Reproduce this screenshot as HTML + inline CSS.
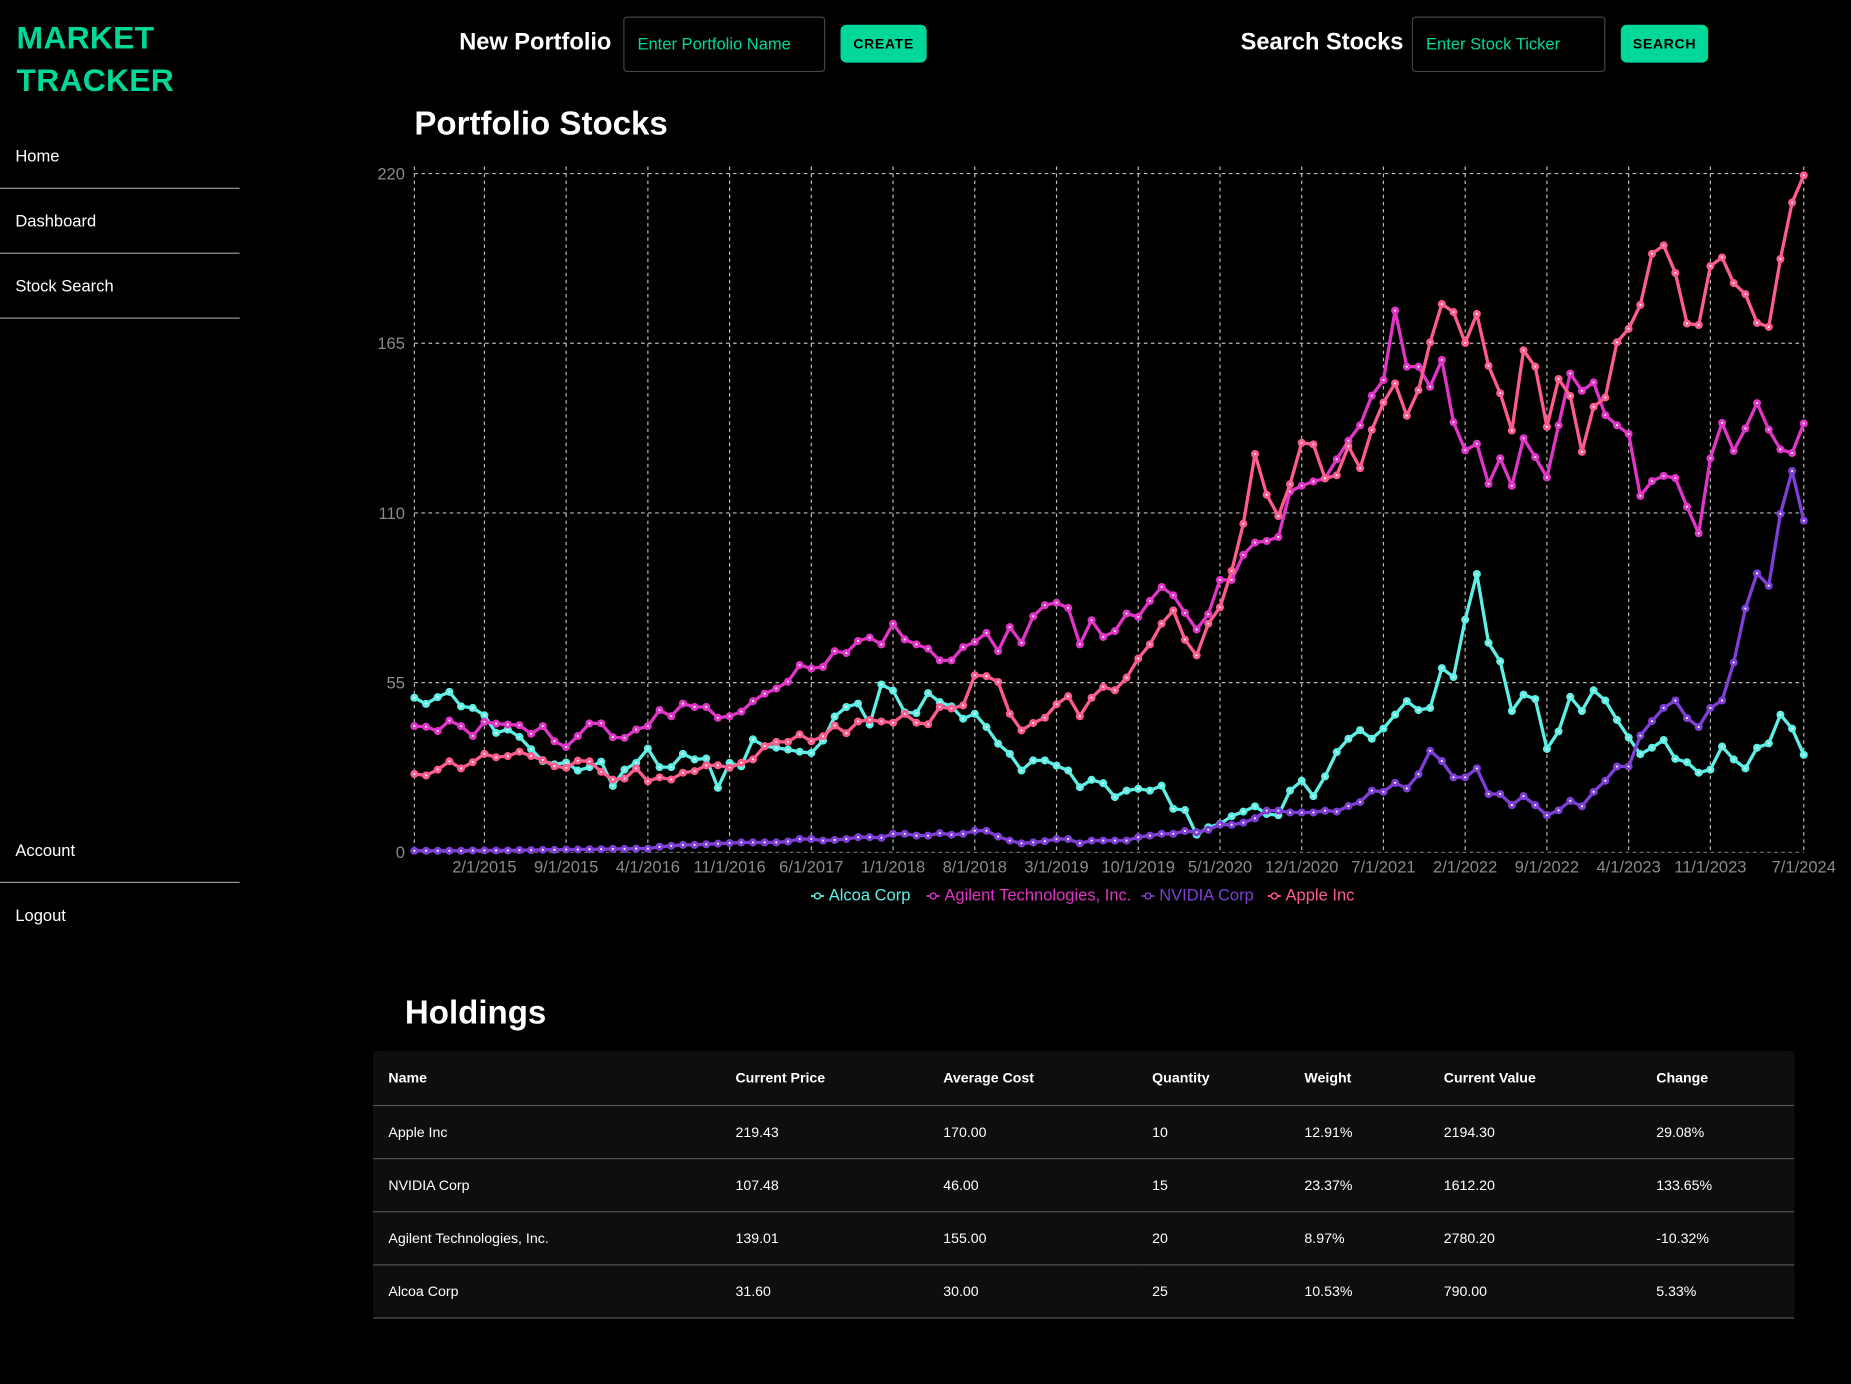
<!DOCTYPE html>
<html><head><meta charset="utf-8"><style>
html,body{margin:0;padding:0;background:#000;overflow:hidden;width:1851px;height:1383px}
#wrap{position:absolute;left:0;top:0;width:1568px;height:1172px;transform:scale(1.18048);transform-origin:0 0;font-family:"Liberation Sans",sans-serif;color:#fff}
.abs{position:absolute}
.logo{left:14px;top:14px;font-size:27px;font-weight:bold;color:#00d89a;line-height:36px;letter-spacing:0.2px}
.nav{left:13px;font-size:14px;color:#fff}
.div{left:0;width:203px;height:1px;background:#9a9a9a}
.h2{font-size:20px;font-weight:bold}
.inp{border:1px solid #444;border-radius:3px;background:#000;color:#00d89a;font-size:14px;box-sizing:border-box;padding-left:11px;line-height:44px}
.btn{background:#00d89a;color:#000;font-size:12px;font-weight:bold;border-radius:5px;text-align:center;line-height:32px;letter-spacing:0.5px}
.title{font-size:28px;font-weight:bold}
table{border-collapse:collapse;font-size:12px}
td,th{text-align:left;padding:0 0 0 13px;height:44px;border-bottom:1px solid #555}
th{height:46px;font-weight:bold}
</style></head><body><div id="wrap">
<div class="abs logo">MARKET<br>TRACKER</div>
<div class="abs nav" style="top:124px">Home</div>
<div class="abs div" style="top:159px"></div>
<div class="abs nav" style="top:179px">Dashboard</div>
<div class="abs div" style="top:214px"></div>
<div class="abs nav" style="top:234px">Stock Search</div>
<div class="abs div" style="top:269px"></div>
<div class="abs nav" style="top:712px">Account</div>
<div class="abs div" style="top:747px"></div>
<div class="abs nav" style="top:767px">Logout</div>

<div class="abs h2" style="left:389px;top:25px">New Portfolio</div>
<div class="abs inp" style="left:528px;top:14px;width:171px;height:47px">Enter Portfolio Name</div>
<div class="abs btn" style="left:712px;top:21px;width:73px;height:32px">CREATE</div>
<div class="abs h2" style="left:1051px;top:25px">Search Stocks</div>
<div class="abs inp" style="left:1196px;top:14px;width:164px;height:47px">Enter Stock Ticker</div>
<div class="abs btn" style="left:1373px;top:21px;width:74px;height:32px">SEARCH</div>

<div class="abs title" style="left:351px;top:89px">Portfolio Stocks</div>
<svg class="abs" id="chart" style="left:0;top:0" width="1568" height="800"></svg>

<div class="abs title" style="left:343px;top:842px">Holdings</div>
<div class="abs" style="left:316px;top:890px;width:1204px;background:#0e0e0e;border-radius:4px">
<table style="width:100%">
<tr><th style="width:281px">Name</th><th style="width:163px">Current Price</th><th style="width:164px">Average Cost</th><th style="width:116px">Quantity</th><th style="width:105px">Weight</th><th style="width:167px">Current Value</th><th>Change</th></tr>
<tr><td>Apple Inc</td><td>219.43</td><td>170.00</td><td>10</td><td>12.91%</td><td>2194.30</td><td>29.08%</td></tr>
<tr><td>NVIDIA Corp</td><td>107.48</td><td>46.00</td><td>15</td><td>23.37%</td><td>1612.20</td><td>133.65%</td></tr>
<tr><td>Agilent Technologies, Inc.</td><td>139.01</td><td>155.00</td><td>20</td><td>8.97%</td><td>2780.20</td><td>-10.32%</td></tr>
<tr><td>Alcoa Corp</td><td>31.60</td><td>30.00</td><td>25</td><td>10.53%</td><td>790.00</td><td>5.33%</td></tr>
</table></div>
</div>
<script>
const alcoa=[50.1,48.1,50.3,52.0,47.3,46.8,44.4,38.7,39.8,37.4,33.4,29.6,28.5,29.1,26.5,27.6,29.4,21.5,26.8,29.0,33.6,27.6,27.6,31.9,30.1,30.4,20.9,29.0,27.9,36.6,34.4,33.9,33.3,32.6,32.2,
36.2,44.0,47.1,48.2,41.4,54.4,52.4,45.4,45.1,51.6,48.7,47.3,43.3,44.9,40.6,35.2,31.9,26.5,29.8,29.8,28.1,26.5,21.1,23.5,22.4,17.9,20.0,20.6,20.0,21.6,14.1,13.7,5.7,8.1,9.2,
11.7,13.2,14.9,12.4,12.0,20.0,23.2,18.2,24.6,32.5,36.8,39.6,36.8,40.1,44.6,49.0,46.1,46.8,59.7,56.8,75.4,90.2,67.9,61.9,45.8,51.1,49.7,33.5,39.2,50.4,45.8,52.5,49.2,42.9,37.2,31.8,33.9,36.4,30.3,29.2,25.8,26.8,34.3,30.1,27.2,33.9,35.3,44.6,40.1,31.6];
const agilent=[40.9,40.7,39.3,42.7,40.9,37.7,42.3,41.7,41.4,41.2,38.4,40.9,36.0,34.1,37.7,41.8,41.8,37.3,37.1,39.8,40.9,46.1,44.1,48.2,47.1,47.1,43.6,44.1,45.6,49.0,51.4,53.1,55.3,60.7,59.6,
60.1,65.2,64.6,68.5,69.6,67.4,74.1,69.0,67.4,66.0,62.2,62.2,66.5,68.2,71.1,65.2,73.0,67.9,76.5,80.1,80.9,79.2,67.4,75.2,69.8,71.7,77.4,76.3,81.5,86.0,83.3,77.6,72.2,77.2,88.3,
88.3,96.4,100.4,100.9,102.2,116.9,118.8,120.2,121.2,127.4,133.4,138.4,148.0,153.1,175.6,157.4,157.4,150.9,159.6,139.4,130.3,132.4,119.4,127.7,118.8,134.2,128.1,121.5,138.4,155.2,149.6,152.3,141.7,138.4,135.6,115.5,120.3,122.0,121.3,112.0,103.4,127.7,139.2,130.1,137.4,145.6,137.0,130.6,129.4,139.0];
const nvidia=[0.5,0.5,0.5,0.5,0.5,0.6,0.6,0.6,0.6,0.7,0.7,0.8,0.8,0.9,0.9,1.0,1.0,1.1,1.1,1.2,1.2,1.8,2.1,2.4,2.4,2.6,2.8,3.0,3.2,3.2,3.2,3.2,3.5,4.3,4.3,
3.8,4.0,4.3,4.9,4.9,4.7,6.0,6.0,5.4,5.4,6.2,5.7,6.0,7.0,7.0,5.1,3.8,2.9,3.2,3.6,4.3,4.3,2.9,3.8,3.8,3.8,3.8,4.9,5.4,6.0,6.0,6.9,6.5,7.3,9.0,
8.9,9.6,11.0,13.5,13.5,12.9,12.9,12.9,13.5,13.2,15.0,16.3,20.0,19.6,22.5,20.7,25.3,32.9,29.6,24.3,24.3,27.2,18.9,18.9,15.3,18.2,15.3,12.0,13.6,16.7,14.9,19.6,23.2,27.8,27.8,37.8,42.5,46.8,49.2,43.5,40.6,46.8,49.2,61.5,79.0,90.4,86.4,109.7,123.6,107.5];
const apple=[25.4,24.9,26.8,29.5,27.2,29.2,31.9,30.8,31.2,32.6,31.2,29.9,27.9,27.4,29.7,29.5,26.1,23.6,23.9,27.2,23.0,24.3,23.6,25.8,26.3,28.2,28.2,27.4,29.0,30.1,34.4,35.8,35.8,38.2,36.0,
37.6,41.1,38.6,42.4,42.9,42.4,42.0,44.9,42.0,41.5,47.1,46.6,47.6,57.4,57.1,55.2,44.9,39.5,41.9,43.6,48.0,50.6,44.1,50.1,53.6,52.5,56.6,62.8,67.4,74.1,78.4,68.9,63.8,74.1,79.4,
91.2,106.5,129.1,115.9,109.0,119.3,132.7,132.2,121.2,122.2,131.6,124.5,136.9,145.8,152.0,141.5,149.8,165.3,177.7,175.1,165.1,174.5,157.7,148.8,136.7,162.7,157.4,137.9,153.4,147.9,129.8,144.4,147.4,165.3,169.7,177.4,194.0,196.7,187.8,171.4,170.9,190.0,192.8,184.5,180.9,171.6,170.3,192.3,210.6,219.4];
const seriesNames=["Alcoa Corp","Agilent Technologies, Inc.","NVIDIA Corp","Apple Inc"];
const seriesColors=["#5ef0e6","#e035c6","#7e3fd6","#ff5c8e"];
const yTicks=[0,55,110,165,220];
const xTickIdx=[6,13,20,27,34,41,48,55,62,69,76,83,90,97,104,111,119];
const xTickLabels=["2/1/2015","9/1/2015","4/1/2016","11/1/2016","6/1/2017","1/1/2018","8/1/2018","3/1/2019","10/1/2019","5/1/2020","12/1/2020","7/1/2021","2/1/2022","9/1/2022","4/1/2023","11/1/2023","7/1/2024"];

const svg=document.getElementById('chart');const NS='http://www.w3.org/2000/svg';
const X0=351,X1=1528,Y0=722,Y1=147,N=alcoa.length;
const xs=i=>X0+(X1-X0)*i/(N-1);
const ys=v=>Y0-(Y0-Y1)*v/220;
function mk(t,a){const e=document.createElementNS(NS,t);for(const k in a)e.setAttribute(k,a[k]);svg.appendChild(e);return e;}
yTicks.forEach(v=>{
 const l=mk('line',{x1:X0,x2:X1,y1:ys(v),y2:ys(v),stroke:v===0?'#777':'#bbb','stroke-dasharray':'3,3','stroke-width':1});
 
 
 const t=mk('text',{x:343,y:ys(v)+5,'text-anchor':'end',fill:'#8a8a8a','font-size':14,'font-family':'Liberation Sans, sans-serif'});
 t.textContent=v;
 
 
});
[0].concat(xTickIdx).forEach(i=>{
 const l=mk('line',{x1:xs(i),x2:xs(i),y1:Y1-6,y2:Y0,stroke:'#bbb','stroke-dasharray':'3,3','stroke-width':1});
 
 
});
xTickIdx.forEach((i,k)=>{
 const t=mk('text',{x:xs(i),y:739,'text-anchor':'middle',fill:'#8a8a8a','font-size':14,'font-family':'Liberation Sans, sans-serif'});
 t.textContent=xTickLabels[k];
 
 
});
[alcoa,agilent,nvidia,apple].forEach((d,s)=>{
 const p=mk('polyline',{points:d.map((v,i)=>xs(i)+','+ys(v)).join(' '),fill:'none',stroke:seriesColors[s],'stroke-width':2.8,'stroke-linejoin':'round'});
 
 
 d.forEach((v,i)=>{
  const c=mk('circle',{cx:xs(i),cy:ys(v),r:3.4,fill:seriesColors[s]});
  
  
  mk('circle',{cx:xs(i),cy:ys(v),r:0.9,fill:'#fff'});
 });
});
const legW=[83,167,92,69];let lx=687;
seriesNames.forEach((n,s)=>{
 const g=document.createElementNS(NS,'g');svg.appendChild(g);
 
 
 const l=document.createElementNS(NS,'line');l.setAttribute('x1',lx);l.setAttribute('x2',lx+11);l.setAttribute('y1',759);l.setAttribute('y2',759);l.setAttribute('stroke',seriesColors[s]);l.setAttribute('stroke-width',1.5);g.appendChild(l);
 const c=document.createElementNS(NS,'circle');c.setAttribute('cx',lx+5.5);c.setAttribute('cy',759);c.setAttribute('r',2.5);c.setAttribute('fill','#000');c.setAttribute('stroke',seriesColors[s]);c.setAttribute('stroke-width',1.2);g.appendChild(c);
 const t=document.createElementNS(NS,'text');t.setAttribute('x',lx+15);t.setAttribute('y',763);t.setAttribute('fill',seriesColors[s]);t.setAttribute('font-size',14);t.setAttribute('font-family','Liberation Sans, sans-serif');t.textContent=n;g.appendChild(t);
 lx+=legW[s]+15;
});
</script>
</body></html>
